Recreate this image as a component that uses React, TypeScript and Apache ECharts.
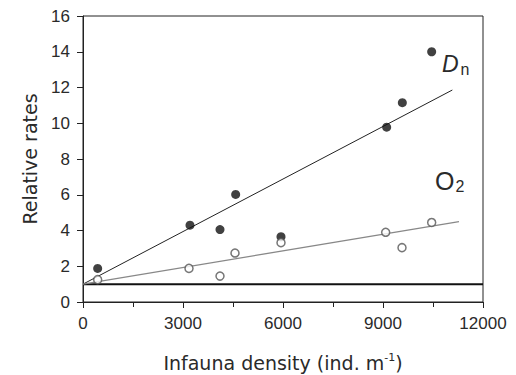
import React, { useEffect, useRef } from "react";
import * as echarts from "echarts";

const dnX = [440, 3210, 4110, 4580, 5940, 9110, 9580, 10460];
const dnY = [1.88, 4.3, 4.05, 6.02, 3.65, 9.78, 11.15, 14.0];
const o2X = [440, 3180, 4110, 4560, 5940, 9080, 9570, 10460];
const o2Y = [1.25, 1.88, 1.45, 2.74, 3.32, 3.9, 3.04, 4.45];
const dnFit = { intercept: 1.0, slope: 0.00098, xEnd: 11080 };
const o2Fit = { intercept: 1.0, slope: 0.00031, xEnd: 11280 };
const baseline = 1;
const xTicks = [0, 3000, 6000, 9000, 12000];
const yTicks = [0, 2, 4, 6, 8, 10, 12, 14, 16];

const FONT = "Liberation Sans";
const NAME_FONT = "DejaVu Sans";
const TXT = "#2a2a2a";

export default function App() {
  const ref = useRef<HTMLDivElement>(null);
  useEffect(() => {
    if (!ref.current) return;
    const chart = echarts.init(ref.current, null, { renderer: "svg" });
    const pts = (xs: number[], ys: number[]) => xs.map((x, i) => [x, ys[i]]);
    const fitLine = (f: { intercept: number; slope: number; xEnd: number }) => [
      [0, f.intercept],
      [f.xEnd, f.intercept + f.slope * f.xEnd],
    ];
    chart.setOption({
      animation: false,
      backgroundColor: "#fff",
      grid: {
        left: 83,
        right: 33,
        top: 16,
        bottom: 73,
        outerBoundsMode: "none",
        containLabel: false,
        show: true,
        borderColor: "#222",
        borderWidth: 1,
      },
      xAxis: {
        type: "value",
        min: xTicks[0],
        max: xTicks[xTicks.length - 1],
        interval: 3000,
        name: "Infauna density (ind. m{sup|-1})",
        nameLocation: "middle",
        nameGap: 50,
        nameTextStyle: {
          fontFamily: NAME_FONT,
          fontSize: 19,
          color: TXT,
          rich: { sup: { fontSize: 11, verticalAlign: "top", padding: [0, 0, 10, 0], fontFamily: NAME_FONT, color: TXT } },
        },
        axisLine: { show: true, lineStyle: { color: "#222", width: 1 } },
        axisTick: { show: true, length: 6, lineStyle: { color: "#222" } },
        minorTick: { show: true, splitNumber: 2, length: 5, lineStyle: { color: "#222" } },
        splitLine: { show: false },
        axisLabel: { fontFamily: FONT, fontSize: 17, color: TXT, margin: 13, formatter: (v: number) => String(v) },
      },
      yAxis: {
        type: "value",
        min: yTicks[0],
        max: yTicks[yTicks.length - 1],
        interval: 2,
        name: "Relative rates",
        nameLocation: "middle",
        nameGap: 44,
        nameTextStyle: { fontFamily: NAME_FONT, fontSize: 19, color: TXT },
        axisLine: { show: true, lineStyle: { color: "#222", width: 1 } },
        axisTick: { show: true, length: 6, lineStyle: { color: "#222" } },
        splitLine: { show: false },
        axisLabel: { fontFamily: FONT, fontSize: 17, color: TXT, margin: 13, formatter: (v: number) => String(v) },
      },
      series: [
        {
          type: "line",
          data: [[xTicks[0], baseline], [xTicks[xTicks.length - 1], baseline]],
          symbol: "none",
          lineStyle: { color: "#111", width: 2 },
          z: 2,
        },
        {
          type: "line",
          data: fitLine(dnFit),
          symbol: "none",
          lineStyle: { color: "#222", width: 1 },
          z: 2,
        },
        {
          type: "line",
          data: fitLine(o2Fit),
          symbol: "none",
          lineStyle: { color: "#888", width: 1.2 },
          z: 2,
        },
        {
          type: "scatter",
          data: pts(dnX, dnY),
          symbol: "circle",
          symbolSize: 9,
          itemStyle: { color: "#111" },
          z: 3,
        },
        {
          type: "scatter",
          data: pts(o2X, o2Y),
          symbol: "circle",
          symbolSize: 8,
          itemStyle: { color: "#fff", borderColor: "#555", borderWidth: 1.5 },
          z: 4,
        },
      ],
      graphic: [
        {
          type: "text",
          left: 442,
          top: 52,
          style: {
            text: "{d|D}{n|n}",
            rich: {
              d: { fontFamily: FONT, fontSize: 23, fontStyle: "italic", fill: TXT },
              n: { fontFamily: FONT, fontSize: 16, fill: TXT, padding: [12, 0, 0, 2] },
            },
          },
        },
        {
          type: "text",
          left: 435,
          top: 168,
          style: {
            text: "{o|O}{s|2}",
            rich: {
              o: { fontFamily: FONT, fontSize: 25, fill: TXT },
              s: { fontFamily: FONT, fontSize: 16, fill: TXT, padding: [12, 0, 0, 1] },
            },
          },
        },
      ],
    });
    return () => chart.dispose();
  }, []);
  return (
    <div
      ref={ref}
      style={{ position: "fixed", left: 0, top: 0, width: 516, height: 375 }}
    />
  );
}
